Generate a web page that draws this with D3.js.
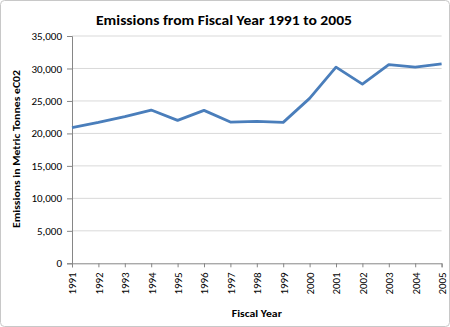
<!DOCTYPE html>
<html><head><meta charset="utf-8">
<script src="https://cdn.jsdelivr.net/npm/d3@7"></script>
<style>body{margin:0;background:#fff}svg{display:block}</style>
</head><body>
<svg id="c" width="450" height="327"></svg>
<script>
const years = ["1991","1992","1993","1994","1995","1996","1997","1998","1999","2000","2001","2002","2003","2004","2005"];
const emissions = [20900,21700,22600,23600,22000,23550,21750,21850,21700,25400,30200,27600,30600,30200,30700];
const yTicks = [0,5000,10000,15000,20000,25000,30000,35000];
const title = "Emissions from Fiscal Year 1991 to 2005";
const xTitle = "Fiscal Year";
const yTitle = "Emissions in Metric Tonnes eC02";

const svg = d3.select("#c");
const font = "Calibri, Carlito, 'Open Sans', 'Liberation Sans', sans-serif";
const L = 72, R = 441.6, T = 36, B = 263.3;

svg.append("rect").attr("x",0.5).attr("y",0.5).attr("width",449).attr("height",326)
  .attr("rx",4).attr("fill","#fff").attr("stroke","#c8c8c8");

const x = d3.scalePoint().domain(years).range([L,R]);
const y = d3.scaleLinear().domain([0,35000]).range([B,T]);

// gridlines
svg.append("g").selectAll("line").data(yTicks.filter(d=>d>0)).join("line")
  .attr("x1",L).attr("x2",R).attr("y1",d=>y(d)).attr("y2",d=>y(d))
  .attr("stroke","#d9d9d9").attr("stroke-width",1);

// y axis
const ya = svg.append("g").attr("transform",`translate(${L},0)`)
  .call(d3.axisLeft(y).tickValues(yTicks).tickFormat(d3.format(",")).tickSize(5).tickPadding(5));
ya.select(".domain").attr("stroke","#868686");
ya.selectAll(".tick line").attr("stroke","#868686");
ya.selectAll("text").attr("font-family",font).attr("font-size","11px").attr("fill","#000");

// x axis
const xa = svg.append("g").attr("transform",`translate(0,${B})`)
  .call(d3.axisBottom(x).tickSize(4).tickPadding(0));
xa.select(".domain").attr("stroke","#868686");
xa.selectAll(".tick line").attr("stroke","#868686");
xa.selectAll("text").attr("font-family",font).attr("font-size","11px").attr("fill","#000")
  .attr("transform","rotate(-90)").attr("text-anchor","end").attr("dy","0.35em").attr("x",-9).attr("y",0);

// line
svg.append("path").datum(emissions)
  .attr("d", d3.line().x((d,i)=>x(years[i])).y(d=>y(d)))
  .attr("fill","none").attr("stroke","#4a7ebb").attr("stroke-width",2.8).attr("stroke-linejoin","round");

// titles
svg.append("text").attr("x",224).attr("y",25).attr("text-anchor","middle")
  .attr("font-family",font).attr("font-weight","bold").attr("font-size","14.5px")
  .attr("textLength",256).attr("lengthAdjust","spacingAndGlyphs").text(title);
svg.append("text").attr("x",(L+R)/2).attr("y",317).attr("text-anchor","middle")
  .attr("font-family",font).attr("font-weight","bold").attr("font-size","10.5px")
  .attr("textLength",50).attr("lengthAdjust","spacingAndGlyphs").text(xTitle);
svg.append("text").attr("transform","translate(19.5,149) rotate(-90)").attr("text-anchor","middle")
  .attr("font-family",font).attr("font-weight","bold").attr("font-size","10.5px")
  .attr("textLength",158).attr("lengthAdjust","spacingAndGlyphs").text(yTitle);
</script>
</body></html>
